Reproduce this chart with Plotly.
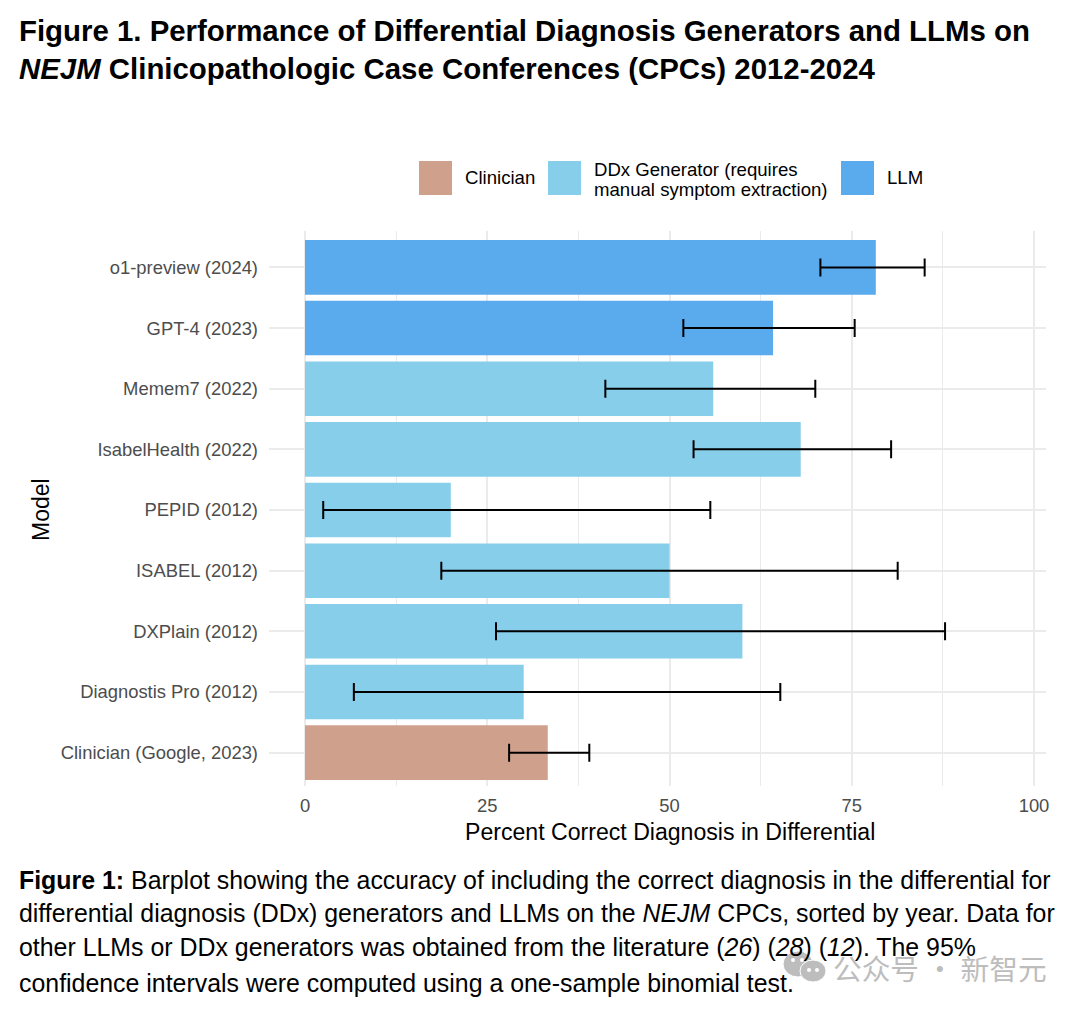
import plotly.graph_objects as go

models = ["Clinician (Google, 2023)", "Diagnostis Pro (2012)", "DXPlain (2012)", "ISABEL (2012)", "PEPID (2012)",
          "IsabelHealth (2022)", "Memem7 (2022)", "GPT-4 (2023)", "o1-preview (2024)"]
groups = ["Clinician", "DDx", "DDx", "DDx", "DDx", "DDx", "DDx", "LLM", "LLM"]
values = [33.3, 30, 60, 50, 20, 68, 56, 64.2, 78.3]
ci_low = [28, 6.7, 26.2, 18.7, 2.5, 53.3, 41.2, 51.9, 70.7]
ci_high = [39, 65.2, 87.8, 81.3, 55.6, 80.4, 70, 75.4, 85]
x_ticks = [0, 25, 50, 75, 100]
colors = {"Clinician": "#CFA18C", "DDx": "#87CEEB", "LLM": "#5AABEE"}
FONT = "Liberation Sans"
OFF = 8  # page margin around the figure
W, H = 1080 - 2 * OFF, 1011 - 2 * OFF
px = lambda v: (v - OFF) / W
py = lambda v: 1 - (v - OFF) / H

fig = go.Figure()
for g in colors:
    idx = [i for i, k in enumerate(groups) if k == g]
    fig.add_trace(go.Bar(
        y=[models[i] for i in idx], x=[values[i] for i in idx], orientation="h", width=0.9,
        marker=dict(color=colors[g], line=dict(width=0)), showlegend=False,
        error_x=dict(type="data", symmetric=False,
                     array=[ci_high[i] - values[i] for i in idx],
                     arrayminus=[values[i] - ci_low[i] for i in idx],
                     color="black", thickness=2, width=9),
    ))

shapes, anns = [], []
def text(x, y, s, size, color="black", xanchor="left", yanchor="middle", align="left"):
    anns.append(dict(x=px(x - 2), y=py(y), xref="paper", yref="paper", text=s, showarrow=False,
                     xanchor=xanchor, yanchor=yanchor, align=align,
                     font=dict(family=FONT, size=size, color=color)))

text(19, 30, "<b>Figure 1. Performance of Differential Diagnosis Generators and LLMs on</b>", 29.4)
text(19, 68, "<b><i>NEJM</i> Clinicopathologic Case Conferences (CPCs) 2012-2024</b>", 29.4)

for x0, c in [(419, "Clinician"), (548, "DDx"), (841, "LLM")]:
    shapes.append(dict(type="rect", xref="paper", yref="paper", x0=px(x0), x1=px(x0 + 33),
                       y0=py(161), y1=py(195), fillcolor=colors[c], line=dict(width=0)))
text(465, 178, "Clinician", 18.6)
text(594, 169, "DDx Generator (requires", 18.6)
text(594, 189, "manual symptom extraction)", 18.6)
text(887, 178, "LLM", 18.6)

anns.append(dict(x=px(41), y=py(510), xref="paper", yref="paper", text="Model", showarrow=False, textangle=-90,
                 font=dict(family=FONT, size=23, color="black"), xanchor="center", yanchor="middle"))
text(672, 832, "Percent Correct Diagnosis in Differential", 23.1, xanchor="center")

text(19, 880, "<b>Figure 1:</b> Barplot showing the accuracy of including the correct diagnosis in the differential for", 24.9)
text(19, 913, "differential diagnosis (DDx) generators and LLMs on the <i>NEJM</i> CPCs, sorted by year. Data for", 24.9)
text(19, 947, "other LLMs or DDx generators was obtained from the literature (<i>26</i>) (<i>28</i>) (<i>12</i>). The 95%", 24.9)
text(19, 983, "confidence intervals were computed using a one-sample binomial test.", 24.9)

# watermark
for cx, cy, rx, ry in [(798, 964, 15, 13), (813, 971, 13, 11)]:
    shapes.append(dict(type="circle", xref="paper", yref="paper", x0=px(cx - rx), x1=px(cx + rx),
                       y0=py(cy + ry), y1=py(cy - ry), fillcolor="#BDBDBD",
                       line=dict(color="white", width=1)))
for cx, cy in [(793, 960), (802, 960), (809, 970), (817, 970)]:
    shapes.append(dict(type="circle", xref="paper", yref="paper", x0=px(cx - 2), x1=px(cx + 2),
                       y0=py(cy + 2), y1=py(cy - 2), fillcolor="white", line=dict(width=0)))
anns.append(dict(x=px(831), y=py(967), xref="paper", yref="paper", text="公众号 · 新智元", showarrow=False,
                 xanchor="left", yanchor="middle",
                 font=dict(family="Noto Sans CJK SC", size=28.7, color="#BDBDBD")))

xl, xr = 269, 1046
to_data = lambda p: (p - 305) / 7.29
fig.update_layout(
    width=W, height=H, autosize=False, barmode="overlay", plot_bgcolor="white", paper_bgcolor="white",
    margin=dict(l=0, r=0, t=0, b=0), shapes=shapes, annotations=anns,
    font=dict(family=FONT),
    xaxis=dict(domain=[px(xl), px(xr)], range=[to_data(xl), to_data(xr)], tickvals=x_ticks, automargin=False,
               ticktext=[str(v) for v in x_ticks], showline=False, zeroline=False, ticks="",
               showgrid=True, gridcolor="#EBEBEB", gridwidth=2, ticklabelstandoff=7,
               anchor="y", tickfont=dict(family=FONT, size=18.4, color="#4D4D4D"),
               minor=dict(tickvals=[12.5, 37.5, 62.5, 87.5], showgrid=True, gridcolor="#EBEBEB", gridwidth=1)),
    yaxis=dict(domain=[py(786), py(231)], categoryorder="array", categoryarray=models, automargin=False,
               range=[-0.55, 8.6], showline=False, zeroline=False, ticks="",
               showgrid=True, gridcolor="#EBEBEB", gridwidth=2, ticklabelstandoff=10,
               tickfont=dict(family=FONT, size=18.4, color="#4D4D4D")),
)
fig.write_html("out.html", config=dict(displayModeBar=False))
